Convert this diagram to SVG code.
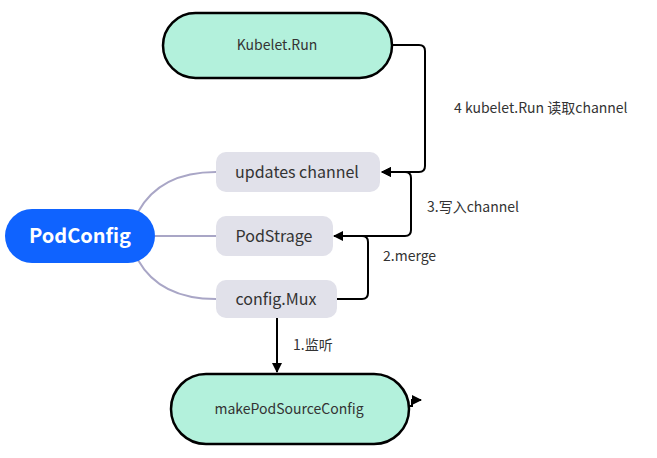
<svg xmlns="http://www.w3.org/2000/svg" width="657" height="458" viewBox="0 0 657 458">
<defs>
<marker id="ah" viewBox="0 0 10 10" refX="9" refY="5" markerWidth="10" markerHeight="10" markerUnits="userSpaceOnUse" orient="auto">
<path d="M0,0 L10,5 L0,10 z" fill="#000"/>
</marker>
<style>
text{font-family:"Noto Sans CJK SC","Noto Sans",sans-serif;fill:#333;}
.pill{fill:#b3f1dc;stroke:#000;stroke-width:2.5;}
.box{fill:#e1e1ea;}
.tree{fill:none;stroke:#a9a6c6;stroke-width:2;}
.edge{fill:none;stroke:#000;stroke-width:2;}
.lbl{font-size:14px;}
</style>
</defs>
<rect width="657" height="458" fill="#fff"/>
<g id="tree-links">
<path class="tree" d="M138,212 Q160,172 216,172"/>
<path class="tree" d="M155,236 L216,236"/>
<path class="tree" d="M138,260 Q160,299 216,299"/>
</g>
<g id="connectors">
<path class="edge" d="M393,45 L419,45 Q425,45 425,51 L425,166 Q425,172 419,172 L382,172" marker-end="url(#ah)"/>
<path class="edge" d="M335,236 L405,236 Q411,236 411,230 L411,178 Q411,172 405,172 L382,172" marker-end="url(#ah)"/>
<path class="edge" d="M337,299 L362,299 Q368,299 368,293 L368,242 Q368,236 362,236 L334,236" marker-end="url(#ah)"/>
<path class="edge" d="M277,318 L277,372" marker-end="url(#ah)"/>
<path class="edge" d="M408,406 L412,406 L412,400 L421,400" marker-end="url(#ah)"/>
<text class="lbl" x="454" y="113">4 kubelet.Run 读取channel</text>
<text class="lbl" x="427" y="212">3.写入channel</text>
<text class="lbl" x="383" y="261">2.merge</text>
<text class="lbl" x="293" y="350">1.监听</text>
</g>
<g id="kubelet-run">
<rect class="pill" x="163" y="13" width="229" height="65" rx="32.5"/>
<text x="277" y="50" font-size="14" text-anchor="middle">Kubelet.Run</text>
</g>
<g id="podconfig">
<rect x="5" y="209" width="150" height="54" rx="27" fill="#0f63ff"/>
<text x="80" y="243" font-size="20" font-weight="bold" text-anchor="middle" style="fill:#fff">PodConfig</text>
</g>
<g id="updates-channel">
<rect class="box" x="216" y="152" width="164" height="40" rx="10"/>
<text x="297" y="178" font-size="16" text-anchor="middle">updates channel</text>
</g>
<g id="podstrage">
<rect class="box" x="216" y="216" width="117" height="40" rx="10"/>
<text x="274" y="242" font-size="16" text-anchor="middle">PodStrage</text>
</g>
<g id="config-mux">
<rect class="box" x="216" y="280" width="121" height="38" rx="10"/>
<text x="276" y="305" font-size="16" text-anchor="middle">config.Mux</text>
</g>
<g id="make-pod-source-config">
<rect class="pill" x="171" y="374" width="238" height="70" rx="35"/>
<text x="289" y="414" font-size="14" text-anchor="middle">makePodSourceConfig</text>
</g>
</svg>
